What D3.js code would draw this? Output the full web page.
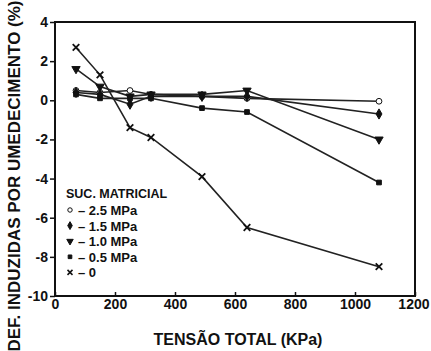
<!DOCTYPE html>
<html>
<head>
<meta charset="utf-8">
<script src="https://cdn.jsdelivr.net/npm/d3@7"></script>
<style>
  body { margin: 0; background: #fff; }
  text { font-family: "Liberation Sans", Arial, sans-serif; font-weight: bold; fill: #111; }
</style>
</head>
<body>
<div></div>
<script>
// pressures (kPa)
const tensao = [70, 150, 250, 320, 490, 640, 1080];

// series, one per matric suction
const suc25 = [0.5, 0.4, 0.5, 0.3, 0.2, 0.1, -0.05];
const suc15 = [0.4, 0.3, -0.2, 0.2, 0.2, 0.2, -0.7];
const suc10 = [1.6, 0.7, 0.2, 0.3, 0.3, 0.5, -2.0];
const suc05 = [0.3, 0.1, 0.1, 0.1, -0.4, -0.6, -4.2];
const suc00 = [2.7, 1.3, -1.4, -1.9, -3.9, -6.5, -8.5];

const legendLabels = ["2.5 MPa", "1.5 MPa", "1.0 MPa", "0.5 MPa", "0"];
const xTicks = [0, 200, 400, 600, 800, 1000, 1200];
const yTicks = [4, 2, 0, -2, -4, -6, -8, -10];

const series = [
  {vals: suc25, sym: d3.symbolCircle, size: 26, open: true},
  {vals: suc15, sym: d3.symbolDiamond, size: 30, open: false},
  {vals: suc10, sym: d3.symbolTriangle, size: 30, open: false, rot: 180},
  {vals: suc05, sym: d3.symbolSquare, size: 22, open: false},
  {vals: suc00, sym: d3.symbolTimes, size: 30, open: false}
];

const svg = d3.select("div").append("svg").attr("width", 431).attr("height", 351);

const x = d3.scaleLinear().domain([0, 1200]).range([55, 415]);
const y = d3.scaleLinear().domain([-10, 4]).range([296, 22]);

// frame
svg.append("rect").attr("x", x(0)).attr("y", y(4))
  .attr("width", x(1200) - x(0)).attr("height", y(-10) - y(4))
  .attr("fill", "none").attr("stroke", "#111").attr("stroke-width", 2);

// axes
const xAxis = svg.append("g").attr("transform", "translate(0," + y(-10) + ")")
  .call(d3.axisBottom(x).tickValues(xTicks).tickSizeInner(-4).tickSizeOuter(0).tickPadding(3)
    .tickFormat(d3.format("d")));
const yAxis = svg.append("g").attr("transform", "translate(" + x(0) + ",0)")
  .call(d3.axisLeft(y).tickValues(yTicks).tickSizeInner(5).tickSizeOuter(0).tickPadding(2)
    .tickFormat(d => d < 0 ? "-" + Math.abs(d) : d));
[xAxis, yAxis].forEach(a => {
  a.select(".domain").remove();
  a.selectAll("line").attr("stroke", "#111").attr("stroke-width", 1.5);
  a.selectAll("text").style("font-size", "14px").attr("fill", "#111");
});
xAxis.selectAll(".tick").filter(d => d === 1200).select("text").attr("text-anchor", "end").attr("dx", 14);

// lines
const line = d3.line().x((d, i) => x(tensao[i])).y(d => y(d));
series.forEach(s => {
  svg.append("path").datum(s.vals).attr("d", line)
    .attr("fill", "none").attr("stroke", "#222").attr("stroke-width", 1.6);
});

// markers
series.forEach(s => {
  svg.append("g").selectAll("path").data(s.vals).join("path")
    .attr("d", d3.symbol(s.sym, s.size))
    .attr("transform", (d, i) => "translate(" + x(tensao[i]) + "," + y(d) + ")" + (s.rot ? " rotate(" + s.rot + ")" : ""))
    .attr("fill", s.open ? "#fff" : "#111")
    .attr("stroke", "#111").attr("stroke-width", s.sym === d3.symbolTimes ? 1.8 : 1);
});

// legend
const leg = svg.append("g").attr("transform", "translate(66,193)");
leg.append("text").attr("x", 0).attr("y", 5).style("font-size", "12.5px").text("SUC. MATRICIAL");
series.forEach((s, i) => {
  const row = leg.append("g").attr("transform", "translate(0," + (17 + i * 15.6) + ")");
  row.append("path").attr("d", d3.symbol(s.sym, s.size * 0.6))
    .attr("transform", "translate(4,0)" + (s.rot ? " rotate(" + s.rot + ")" : ""))
    .attr("fill", s.open ? "#fff" : "#111").attr("stroke", "#111")
    .attr("stroke-width", s.sym === d3.symbolTimes ? 1.5 : 1);
  row.append("text").attr("x", 12).attr("y", 5).style("font-size", "13px")
    .text("\u2013 " + legendLabels[i]);
});

// axis titles
svg.append("text").attr("x", 238).attr("y", 345).attr("text-anchor", "middle")
  .style("font-size", "16px").text("TENSÃO TOTAL (KPa)");
svg.append("text").attr("transform", "translate(20,176) rotate(-90)").attr("text-anchor", "middle")
  .style("font-size", "17px").text("DEF. INDUZIDAS POR UMEDECIMENTO (%)");
</script>
</body>
</html>
